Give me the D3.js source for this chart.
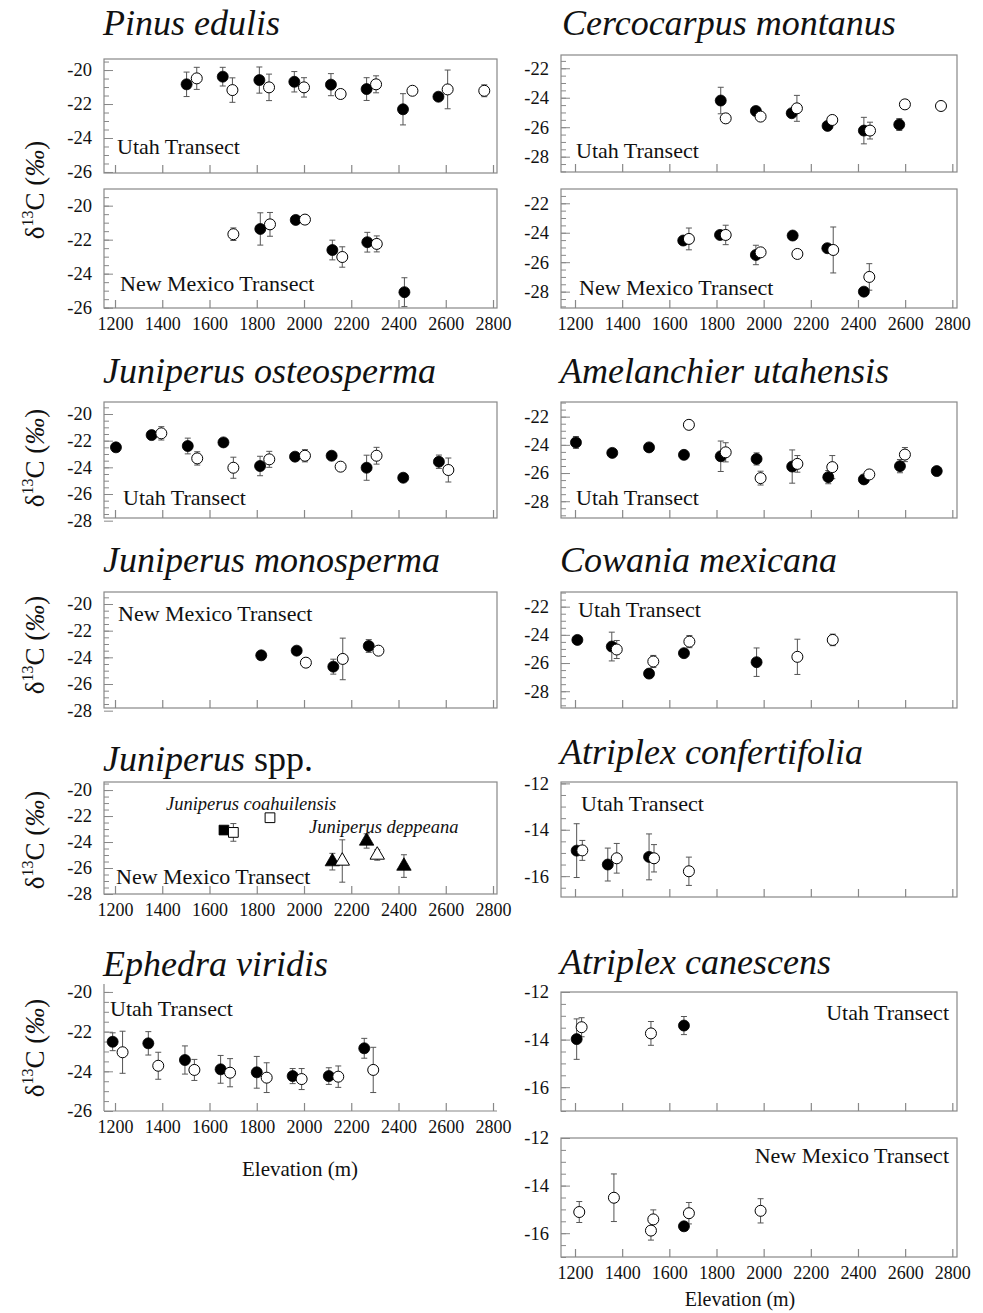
<!DOCTYPE html>
<html>
<head>
<meta charset="utf-8">
<script src="https://cdn.jsdelivr.net/npm/d3@7"></script>
<style>
  body { margin: 0; background: #fff; }
  svg { display: block; }
  text { font-family: "Liberation Serif", "Times New Roman", serif; fill: #111; }
</style>
</head>
<body>
<div id="chart"></div>
<script>
// Elevation ticks shared by every panel
const elevTicks = [1200, 1400, 1600, 1800, 2000, 2200, 2400, 2600, 2800];

// y tick labels
const ticks20to26 = [-20, -22, -24, -26];
const ticks20to28 = [-20, -22, -24, -26, -28];
const ticks22to28 = [-22, -24, -26, -28];
const ticks12to16 = [-12, -14, -16];

// data rows: [elevation (m), d13C (permil), sd or null]
// Pinus edulis
const pinusUtahFilled = [[1503,-20.84,0.72],[1656,-20.39,0.55],[1811,-20.59,0.77],[1959,-20.69,0.6],[2114,-20.86,0.65],[2265,-21.12,0.67],[2419,-22.31,0.92],[2569,-21.57,null]];
const pinusUtahOpen = [[1546,-20.49,0.65],[1697,-21.18,0.72],[1852,-21.02,0.78],[2000,-21.02,0.57],[2155,-21.41,null],[2305,-20.84,0.5],[2459,-21.22,null],[2608,-21.14,1.14],[2763,-21.22,0.35]];
const pinusNMFilled = [[1815,-21.37,0.95],[1965,-20.84,null],[2120,-22.61,0.58],[2268,-22.15,0.58],[2425,-25.09,0.85]];
const pinusNMOpen = [[1701,-21.68,0.37],[1856,-21.1,0.7],[2004,-20.82,null],[2162,-23.02,0.6],[2308,-22.25,0.47]];

// Cercocarpus montanus
const cercoUtahFilled = [[1818,-24.19,0.9],[1967,-24.9,null],[2119,-25.05,null],[2271,-25.91,null],[2425,-26.23,0.9],[2575,-25.82,0.4]];
const cercoUtahOpen = [[1839,-25.4,0.3],[1987,-25.28,null],[2141,-24.72,0.88],[2291,-25.51,null],[2451,-26.23,0.57],[2599,-24.45,null],[2752,-24.56,null]];
const cercoNMFilled = [[1659,-24.53,null],[1815,-24.15,null],[1967,-25.51,0.66],[2123,-24.19,null],[2270,-25.05,null],[2425,-28.0,null]];
const cercoNMOpen = [[1683,-24.42,0.74],[1839,-24.15,0.66],[1987,-25.33,null],[2143,-25.44,null],[2295,-25.17,1.56],[2448,-27.0,0.9]];

// Juniperus osteosperma
const josteoFilled = [[1204,-22.5,null],[1355,-21.58,null],[1508,-22.4,0.59],[1659,-22.13,null],[1814,-23.9,0.73],[1962,-23.2,null],[2117,-23.13,null],[2265,-24.03,0.94],[2420,-24.78,null],[2571,-23.58,0.5]];
const josteoOpen = [[1396,-21.45,0.5],[1548,-23.33,0.5],[1701,-24.03,0.79],[1853,-23.4,0.6],[2004,-23.13,0.46],[2155,-23.95,null],[2307,-23.13,0.63],[2611,-24.2,0.9]];

// Amelanchier utahensis
const amelFilled = [[1204,-23.83,0.42],[1358,-24.57,null],[1514,-24.18,null],[1662,-24.71,null],[1818,-24.81,1.08],[1970,-25.0,0.43],[2121,-25.54,1.18],[2274,-26.29,0.47],[2425,-26.45,null],[2578,-25.51,0.47],[2734,-25.86,null]];
const amelOpen = [[1683,-22.58,null],[1839,-24.53,0.68],[1987,-26.36,0.49],[2143,-25.35,0.59],[2291,-25.58,0.82],[2448,-26.1,null],[2599,-24.69,0.5]];

// Juniperus monosperma
const jmonoFilled = [[1819,-23.85,null],[1969,-23.5,null],[2124,-24.7,0.56],[2274,-23.15,0.48]];
const jmonoOpen = [[2008,-24.4,null],[2164,-24.12,1.56],[2315,-23.5,null]];

// Cowania mexicana
const cowaniaFilled = [[1210,-24.36,null],[1356,-24.83,1.02],[1514,-26.75,null],[1662,-25.3,null],[1970,-25.94,1.01]];
const cowaniaOpen = [[1377,-25.04,0.64],[1532,-25.89,0.43],[1685,-24.48,0.43],[2143,-25.56,1.25],[2293,-24.36,0.41]];

// Juniperus spp.
const coahFilled = [[1661,-23.08,null]];
const coahOpen = [[1701,-23.26,0.68],[1856,-22.13,null]];
const deppFilled = [[2120,-25.51,0.64],[2265,-23.92,0.55],[2423,-25.85,0.87]];
const deppOpen = [[2162,-25.46,1.63],[2310,-25.0,0.4]];

// Atriplex confertifolia
const confFilled = [[1207,-14.9,1.16],[1339,-15.5,0.71],[1514,-15.17,0.99]];
const confOpen = [[1231,-14.89,0.43],[1377,-15.23,0.64],[1535,-15.23,0.59],[1683,-15.79,0.61]];

// Ephedra viridis
const ephedraFilled = [[1190,-22.51,0.45],[1341,-22.59,0.59],[1496,-23.43,0.71],[1647,-23.9,0.7],[1800,-24.05,0.8],[1952,-24.24,0.38],[2105,-24.24,0.42],[2255,-22.84,0.5]];
const ephedraOpen = [[1232,-23.04,1.06],[1383,-23.72,0.68],[1536,-23.93,0.53],[1687,-24.07,0.71],[1842,-24.32,0.75],[1990,-24.39,0.53],[2145,-24.27,0.54],[2293,-23.93,1.14]];

// Atriplex canescens
const canUtahFilled = [[1207,-13.98,0.85],[1662,-13.41,0.38]];
const canUtahOpen = [[1228,-13.48,0.4],[1522,-13.74,0.5]];
const canNMFilled = [[1662,-15.71,null]];
const canNMOpen = [[1218,-15.11,0.44],[1365,-14.51,1.0],[1532,-15.42,0.4],[1522,-15.89,0.4],[1683,-15.16,0.45],[1987,-15.06,0.51]];

// layout
const W = 983, H = 1313;
const cols = {
  L: { x0: 104, x1: 497, domain: [1153.4, 2816.9] },
  R: { x0: 561, x1: 957, domain: [1140.6, 2819.9] }
};

const circ = (data, filled) => ({ data, shape: 'circle', filled });

const panels = [
  { col: 'L', top: 59, bottom: 173, y: [-26.06, -19.35], ticks: ticks20to26, label: 'Utah Transect', lx: 117, ly: 146,
    series: [circ(pinusUtahFilled, true), circ(pinusUtahOpen, false)] },
  { col: 'L', top: 189, bottom: 308, y: [-26.02, -19.02], ticks: ticks20to26, label: 'New Mexico Transect', lx: 120, ly: 283, xLabels: true,
    series: [circ(pinusNMFilled, true), circ(pinusNMOpen, false)] },
  { col: 'R', top: 55, bottom: 172, y: [-29.04, -21.1], ticks: ticks22to28, label: 'Utah Transect', lx: 576, ly: 150,
    series: [circ(cercoUtahFilled, true), circ(cercoUtahOpen, false)] },
  { col: 'R', top: 189, bottom: 308, y: [-29.11, -21.03], ticks: ticks22to28, label: 'New Mexico Transect', lx: 579, ly: 287, xLabels: true,
    series: [circ(cercoNMFilled, true), circ(cercoNMOpen, false)] },
  { col: 'L', top: 402, bottom: 518, y: [-27.8, -19.1], ticks: ticks20to28, label: 'Utah Transect', lx: 123, ly: 497,
    series: [circ(josteoFilled, true), circ(josteoOpen, false)] },
  { col: 'R', top: 402, bottom: 518, y: [-29.19, -20.96], ticks: ticks22to28, label: 'Utah Transect', lx: 576, ly: 497,
    series: [circ(amelFilled, true), circ(amelOpen, false)] },
  { col: 'L', top: 592, bottom: 708, y: [-27.8, -19.1], ticks: ticks20to28, label: 'New Mexico Transect', lx: 118, ly: 613,
    series: [circ(jmonoFilled, true), circ(jmonoOpen, false)] },
  { col: 'R', top: 592, bottom: 708, y: [-29.19, -20.96], ticks: ticks22to28, label: 'Utah Transect', lx: 578, ly: 609,
    series: [circ(cowaniaFilled, true), circ(cowaniaOpen, false)] },
  { col: 'L', top: 782, bottom: 894, y: [-28.0, -19.38], ticks: ticks20to28, label: 'New Mexico Transect', lx: 116, ly: 876, xLabels: true,
    series: [{ data: coahFilled, shape: 'square', filled: true }, { data: coahOpen, shape: 'square', filled: false },
             { data: deppFilled, shape: 'triangle', filled: true }, { data: deppOpen, shape: 'triangle', filled: false }] },
  { col: 'R', top: 782, bottom: 897, y: [-16.9, -11.94], ticks: ticks12to16, label: 'Utah Transect', lx: 581, ly: 803,
    series: [circ(confFilled, true), circ(confOpen, false)] },
  { col: 'L', top: 984, bottom: 1111, y: [-26.0, -19.6], ticks: ticks20to26, label: 'Utah Transect', lx: 110, ly: 1008, xLabels: true, open: true,
    series: [circ(ephedraFilled, true), circ(ephedraOpen, false)] },
  { col: 'R', top: 992, bottom: 1111, y: [-17, -12], ticks: ticks12to16, label: 'Utah Transect', lx: 949, ly: 1012, anchor: 'end',
    series: [circ(canUtahFilled, true), circ(canUtahOpen, false)] },
  { col: 'R', top: 1138, bottom: 1257, y: [-17, -12], ticks: ticks12to16, label: 'New Mexico Transect', lx: 949, ly: 1155, anchor: 'end', xLabels: true,
    series: [circ(canNMFilled, true), circ(canNMOpen, false)] }
];

const titles = [
  { x: 103, y: 35, parts: [['Pinus edulis', true]] },
  { x: 562, y: 35, parts: [['Cercocarpus montanus', true]] },
  { x: 103, y: 383, parts: [['Juniperus osteosperma', true]] },
  { x: 560, y: 383, parts: [['Amelanchier utahensis', true]] },
  { x: 103, y: 572, parts: [['Juniperus monosperma', true]] },
  { x: 560, y: 572, parts: [['Cowania mexicana', true]] },
  { x: 103, y: 771, parts: [['Juniperus', true], [' spp.', false]] },
  { x: 560, y: 764, parts: [['Atriplex confertifolia', true]] },
  { x: 103, y: 976, parts: [['Ephedra viridis', true]] },
  { x: 560, y: 974, parts: [['Atriplex canescens', true]] }
];

const yTitleCenters = [190, 458, 645, 840, 1048];

const svg = d3.select('#chart').append('svg')
  .attr('width', W)
  .attr('height', H);

const frameColor = '#888';
const serif = '"Liberation Serif", "Times New Roman", serif';

function drawPanel(p) {
  const col = cols[p.col];
  const w = col.x1 - col.x0, h = p.bottom - p.top;
  const g = svg.append('g').attr('transform', `translate(${col.x0},${p.top})`);

  const x = d3.scaleLinear().domain(col.domain).range([0, w]);
  const y = d3.scaleLinear().domain(p.y).range([h, 0]);

  // frame
  if (p.open) {
    g.append('line').attr('x1', 0).attr('x2', 0).attr('y1', 0).attr('y2', h)
      .attr('stroke', frameColor).attr('stroke-width', 1.2);
    g.append('line').attr('x1', 0).attr('x2', w).attr('y1', h).attr('y2', h)
      .attr('stroke', frameColor).attr('stroke-width', 1.2);
  } else {
    g.append('rect').attr('width', w).attr('height', h)
      .attr('fill', 'none').attr('stroke', frameColor).attr('stroke-width', 1.2);
  }

  // x axis ticks (pointing inwards)
  const xAxis = d3.axisBottom(x)
    .tickValues(elevTicks)
    .tickSizeInner(-8)
    .tickSizeOuter(0)
    .tickPadding(9)
    .tickFormat(p.xLabels ? d => String(d) : () => '');
  const gx = g.append('g').attr('transform', `translate(0,${h})`).call(xAxis);
  gx.select('.domain').remove();
  gx.selectAll('line').attr('stroke', frameColor).attr('stroke-width', 1.2);
  gx.selectAll('text').attr('font-size', 18).attr('font-family', serif).attr('fill', '#111');

  // y minor ticks every 0.5 permil
  const lo = Math.ceil(p.y[0] * 2) / 2, hi = Math.floor(p.y[1] * 2) / 2;
  const minor = d3.range(lo, hi + 0.01, 0.5);
  const gyMinor = g.append('g').call(d3.axisLeft(y).tickValues(minor).tickSize(-5).tickFormat(() => ''));
  gyMinor.select('.domain').remove();
  gyMinor.selectAll('line').attr('stroke', frameColor);

  const gy = g.append('g').call(d3.axisLeft(y).tickValues(p.ticks).tickSize(-9).tickPadding(12).tickFormat(d => String(d)));
  gy.select('.domain').remove();
  gy.selectAll('line').attr('stroke', frameColor);
  gy.selectAll('text').attr('font-size', 18.5).attr('font-family', serif).attr('fill', '#111');

  // error bars first
  p.series.forEach(s => {
    const eb = g.append('g').selectAll('g')
      .data(s.data.filter(d => d[2] != null))
      .enter().append('g')
      .attr('stroke', '#555').attr('stroke-width', 1);
    eb.append('line')
      .attr('x1', d => x(d[0])).attr('x2', d => x(d[0]))
      .attr('y1', d => y(d[1] - d[2])).attr('y2', d => y(d[1] + d[2]));
    eb.append('line')
      .attr('x1', d => x(d[0]) - 3).attr('x2', d => x(d[0]) + 3)
      .attr('y1', d => y(d[1] - d[2])).attr('y2', d => y(d[1] - d[2]));
    eb.append('line')
      .attr('x1', d => x(d[0]) - 3).attr('x2', d => x(d[0]) + 3)
      .attr('y1', d => y(d[1] + d[2])).attr('y2', d => y(d[1] + d[2]));
  });

  // markers: filled first, open on top
  const ordered = p.series.filter(s => s.filled).concat(p.series.filter(s => !s.filled));
  ordered.forEach(s => {
    const sym = s.shape === 'circle' ? null :
      d3.symbol().type(s.shape === 'square' ? d3.symbolSquare : d3.symbolTriangle).size(s.shape === 'square' ? 95 : 90);
    const m = g.append('g').selectAll('.m')
      .data(s.data)
      .enter();
    let marks;
    if (s.shape === 'circle') {
      marks = m.append('circle')
        .attr('cx', d => x(d[0]))
        .attr('cy', d => y(d[1]))
        .attr('r', 5.5);
    } else {
      marks = m.append('path')
        .attr('d', sym)
        .attr('transform', d => `translate(${x(d[0])},${y(d[1])})`);
    }
    marks.attr('fill', s.filled ? '#000' : '#fff')
      .attr('stroke', '#000')
      .attr('stroke-width', s.filled ? 0.8 : 1);
  });

  // transect label (absolute page coordinates)
  svg.append('text')
    .attr('x', p.lx).attr('y', p.ly)
    .attr('dy', '0.35em')
    .attr('text-anchor', p.anchor || 'start')
    .attr('font-size', 22)
    .text(p.label);
}

panels.forEach(drawPanel);

// titles
titles.forEach(t => {
  const txt = svg.append('text').attr('x', t.x).attr('y', t.y).attr('font-size', 36);
  t.parts.forEach(([s, it]) => {
    txt.append('tspan').attr('font-style', it ? 'italic' : 'normal').text(s);
  });
});

// Juniperus spp. species labels
svg.append('text').attr('x', 166).attr('y', 804).attr('dy', '0.35em')
  .attr('font-size', 18.5).attr('font-style', 'italic').text('Juniperus coahuilensis');
svg.append('text').attr('x', 309).attr('y', 827).attr('dy', '0.35em')
  .attr('font-size', 18.5).attr('font-style', 'italic').text('Juniperus deppeana');

// y axis titles
yTitleCenters.forEach(cy => {
  const t = svg.append('text')
    .attr('transform', `translate(44,${cy}) rotate(-90)`)
    .attr('text-anchor', 'middle')
    .attr('font-size', 27);
  t.append('tspan').text('\u03b4');
  t.append('tspan').attr('font-size', 16).attr('dy', -11).text('13');
  t.append('tspan').attr('dy', 11).text('C (');
  t.append('tspan').attr('font-style', 'italic').text('\u2030');
  t.append('tspan').text(')');
});

// x axis titles
svg.append('text').attr('x', 300).attr('y', 1176).attr('text-anchor', 'middle').attr('font-size', 21).text('Elevation (m)');
svg.append('text').attr('x', 740).attr('y', 1306).attr('text-anchor', 'middle').attr('font-size', 20).text('Elevation (m)');
</script>
</body>
</html>
